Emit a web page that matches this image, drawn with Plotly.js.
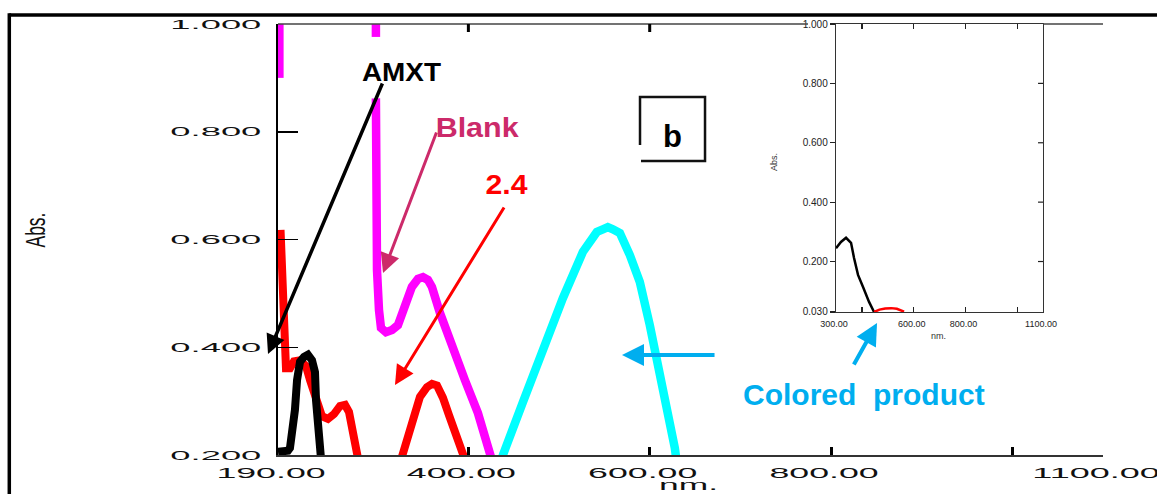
<!DOCTYPE html>
<html>
<head>
<meta charset="utf-8">
<script src="https://cdn.plot.ly/plotly-3.0.1.min.js"></script>
<style>
  html, body { margin: 0; padding: 0; background: #fff; }
  #chart { width: 1157px; height: 494px; }
</style>
</head>
<body>
<div id="chart"></div>
<script>
// ---- Spectra (wavelength in nm, absorbance) ----
// Blank (reagent blank), drawn in magenta; null marks breaks in the trace
const blankNm  = [191.5, 191.5, null, 298, 298, null, 298, 298, 299.2, 301.4, 303.6, 309.1, 315.7, 322.3, 330.0, 337.7, 344.4, 349.9, 355.4, 359.8, 368.6, 381.8, 396.2, 410.5, 423.7, 426.0];
const blankAbs = [1.05, 0.900, null, 1.05, 0.976, null, 0.862, 0.673, 0.543, 0.469, 0.436, 0.428, 0.432, 0.441, 0.475, 0.512, 0.527, 0.530, 0.525, 0.512, 0.464, 0.400, 0.339, 0.278, 0.206, 0.190];

// AMXT, drawn in black
const amxtNm  = [190.0, 196.0, 201.0, 203.2, 205.4, 208.7, 211.0, 214.3, 218.7, 223.0, 227.5, 230.8, 231.9, 234.1, 236.3, 237.4];
const amxtAbs = [0.206, 0.207, 0.208, 0.213, 0.237, 0.284, 0.339, 0.373, 0.382, 0.386, 0.376, 0.354, 0.302, 0.256, 0.219, 0.194];

// 2.4 trace, drawn in red
const redNm  = [192.8, 194.4, 195.5, 196.6, 198.8, 203.2, 207.6, 214.3, 220.9, 225.3, 229.7, 234.1, 238.5, 245.1, 251.8, 258.4, 263.9, 268.3, 272.7, 277.1, 278.2, null,
                325.7, 327.9, 337.8, 346.6, 354.3, 359.9, 365.4, 372.0, 378.6, 386.3, 394.1, 396.3];
const redAbs = [0.618, 0.525, 0.432, 0.380, 0.361, 0.361, 0.374, 0.376, 0.365, 0.339, 0.313, 0.291, 0.272, 0.267, 0.276, 0.291, 0.293, 0.280, 0.246, 0.209, 0.194, null,
                0.191, 0.204, 0.265, 0.308, 0.326, 0.332, 0.329, 0.306, 0.274, 0.241, 0.204, 0.191];

// Colored product, drawn in cyan
const productNm  = [436.5, 438.1, 460.1, 482.2, 504.2, 526.3, 541.7, 548.3, 553.8, 559.4, 567.1, 578.1, 589.1, 600.1, 611.2, 620.0, 627.7, 629.5];
const productAbs = [0.190, 0.200, 0.298, 0.399, 0.491, 0.577, 0.614, 0.619, 0.623, 0.619, 0.612, 0.571, 0.521, 0.441, 0.354, 0.287, 0.213, 0.190];

// Inset spectra
const insetAmxtNm   = [300, 319, 338.7, 358, 369.6, 385, 404.4, 427.6, 447];
const insetAmxtAbs  = [0.245, 0.266, 0.280, 0.263, 0.212, 0.155, 0.114, 0.064, 0.030];
const insetRedNm    = [447, 468, 490, 513, 535, 555, 563];
const insetRedAbs   = [0.030, 0.038, 0.042, 0.043, 0.041, 0.035, 0.031];

// ---- Tick values / labels ----
const xTickVals = [190, 400, 600, 800, 1100];
const xTickText = ['190.00', '400.00', '600.00', '800.00', '1100.00'];
const xTickMarks = [400, 600, 800, 1000];
const xTopTickMarks = [400, 600];
const yTickVals = [0.2, 0.4, 0.6, 0.8, 1.0];
const yTickText = ['0.200', '0.400', '0.600', '0.800', '1.000'];
const yRightTickMarks = [0.4, 0.6, 0.8];

const insetXTickVals = [300, 600, 800, 1100];
const insetXTickText = ['300.00', '600.00', '800.00', '1100.00'];
const insetXTickMarks = [400, 600, 800, 1000];
const insetYTickVals = [0.03, 0.2, 0.4, 0.6, 0.8, 1.0];
const insetYTickText = ['0.030', '0.200', '0.400', '0.600', '0.800', '1.000'];
const insetYRightTickMarks = [0.2, 0.4, 0.6, 0.8];

const FONT = 'Liberation Sans, Arial, Helvetica, sans-serif';

// tick marks that carry no label are drawn as minor ticks
const unlabelled = (marks, labelled) => marks.filter(v => !labelled.includes(v));

const traces = [
  { x: blankNm, y: blankAbs, mode: 'lines', line: { color: '#ff00ff', width: 8.5 }, xaxis: 'x', yaxis: 'y', hoverinfo: 'skip', connectgaps: false },
  { x: productNm, y: productAbs, mode: 'lines', line: { color: '#00ffff', width: 8.5 }, xaxis: 'x', yaxis: 'y', hoverinfo: 'skip' },
  { x: redNm, y: redAbs, mode: 'lines', line: { color: '#ff0000', width: 8 }, xaxis: 'x', yaxis: 'y', hoverinfo: 'skip', connectgaps: false },
  { x: amxtNm, y: amxtAbs, mode: 'lines', line: { color: '#000000', width: 8 }, xaxis: 'x', yaxis: 'y', hoverinfo: 'skip' },
  { x: insetAmxtNm, y: insetAmxtAbs, mode: 'lines', line: { color: '#000000', width: 2.5 }, xaxis: 'x2', yaxis: 'y2', hoverinfo: 'skip' },
  { x: insetRedNm, y: insetRedAbs, mode: 'lines', line: { color: '#ff0000', width: 2.5 }, xaxis: 'x2', yaxis: 'y2', hoverinfo: 'skip' }
];

const bare = { showgrid: false, zeroline: false, fixedrange: true };

const INSET_RIGHT = 0.9273;

const shapes = [
  // outer frame (top and left)
  { type: 'line', xref: 'paper', yref: 'paper', x0: -0.3257, x1: 1.2, y0: 1.0209, y1: 1.0209, line: { color: '#000', width: 3.5 } },
  { type: 'line', xref: 'paper', yref: 'paper', x0: -0.3257, x1: -0.3257, y0: 1.025, y1: -0.2, line: { color: '#000', width: 3.5 } },
  // top border of the main plot, interrupted by the inset
  { type: 'line', xref: 'paper', yref: 'paper', x0: 0, x1: 0.6424, y0: 1, y1: 1, line: { color: '#444', width: 1.5 } },
  { type: 'line', xref: 'paper', yref: 'paper', x0: INSET_RIGHT, x1: 1, y0: 1, y1: 1, line: { color: '#444', width: 1.5 } },
  // panel letter box
  { type: 'path', xref: 'paper', yref: 'paper',
    path: 'M 0.4388 0.7193 L 0.4388 0.8306 L 0.5176 0.8306 L 0.5176 0.6821 L 0.4400 0.6821',
    line: { color: '#111', width: 2.5 } }
];
// short ticks hanging from the top border of the main plot
xTopTickMarks.forEach(v => shapes.push({
  type: 'line', xref: 'x', yref: 'paper', x0: v, x1: v,
  ysizemode: 'pixel', yanchor: 1, y0: 0, y1: -8, line: { color: '#000', width: 3 }
}));
// inward ticks on the right edge of the inset
insetYRightTickMarks.forEach(v => shapes.push({
  type: 'line', xref: 'paper', yref: 'y2', y0: v, y1: v,
  xsizemode: 'pixel', xanchor: INSET_RIGHT, x0: 0, x1: -5, line: { color: '#222', width: 1.2 }
}));

const layout = {
  width: 1157, height: 494,
  margin: { l: 278, r: 54, t: 24, b: 39, pad: 0 },
  paper_bgcolor: '#ffffff', plot_bgcolor: 'rgba(0,0,0,0)',
  showlegend: false,
  font: { family: FONT, color: '#111' },

  // main axes
  xaxis: Object.assign({}, bare, {
    range: [190, 1100], tickmode: 'array', tickvals: xTickVals, ticktext: xTickText,
    ticks: 'inside', ticklen: 8, tickwidth: 3, tickcolor: '#000',
    minor: { tickmode: 'array', tickvals: unlabelled(xTickMarks, xTickVals), ticks: 'inside', ticklen: 8, tickwidth: 3, tickcolor: '#000', showgrid: false },
    showline: true, linecolor: '#333', linewidth: 2, mirror: false,
    ticklabelshift: -7, ticklabelstandoff: 4,
    tickfont: { family: FONT, size: 14, color: '#111' }
  }),
  yaxis: Object.assign({}, bare, {
    range: [0.2, 1.0], tickmode: 'array', tickvals: yTickVals, ticktext: yTickText,
    ticks: 'inside', ticklen: 20, tickwidth: 1.5, tickcolor: '#000',
    showline: true, linecolor: '#000', linewidth: 2, mirror: false,
    ticklabelstandoff: 12,
    tickfont: { family: FONT, size: 13, color: '#111' }
  }),
  yaxis3: Object.assign({}, bare, {
    overlaying: 'y', anchor: 'x', side: 'right',
    range: [0.2, 1.0], tickmode: 'array', tickvals: yRightTickMarks, showticklabels: false,
    ticks: 'inside', ticklen: 17, tickwidth: 1.5, tickcolor: '#000',
    showline: true, linecolor: '#000', linewidth: 4
  }),

  // inset axes
  xaxis2: Object.assign({}, bare, {
    domain: [0.6764, INSET_RIGHT], anchor: 'y2',
    range: [300, 1100], tickmode: 'array', tickvals: insetXTickVals, ticktext: insetXTickText,
    ticks: 'inside', ticklen: 5, tickwidth: 1.2, tickcolor: '#222',
    minor: { tickmode: 'array', tickvals: unlabelled(insetXTickMarks, insetXTickVals), ticks: 'inside', ticklen: 5, tickwidth: 1.2, tickcolor: '#222', showgrid: false },
    showline: true, linecolor: '#333', linewidth: 1.3, mirror: 'ticks',
    ticklabelshift: -2, ticklabelstandoff: 3,
    tickfont: { family: FONT, size: 9, color: '#222' }
  }),
  yaxis2: Object.assign({}, bare, {
    domain: [0.3318, 1], anchor: 'x2',
    range: [0.03, 1.0], tickmode: 'array', tickvals: insetYTickVals, ticktext: insetYTickText,
    ticks: 'outside', ticklen: 5, tickwidth: 1.2, tickcolor: '#222',
    showline: true, linecolor: '#333', linewidth: 1.3, mirror: true,
    tickfont: { family: FONT, size: 10, color: '#222' }
  }),

  shapes: shapes,

  annotations: [
    // axis titles
    { text: 'Abs.', xref: 'paper', yref: 'paper', x: -0.2945, y: 0.522, textangle: -90, showarrow: false,
      font: { family: FONT, size: 28, color: '#111' }, xanchor: 'center', yanchor: 'middle' },
    { text: 'nm.', xref: 'paper', yref: 'paper', x: 0.497, y: -0.0691, showarrow: false,
      font: { family: FONT, size: 15, color: '#111' }, xanchor: 'center', yanchor: 'middle' },
    { text: 'Abs.', xref: 'paper', yref: 'paper', x: 0.6012, y: 0.6798, textangle: -90, showarrow: false,
      font: { family: FONT, size: 9, color: '#333' }, xanchor: 'center', yanchor: 'middle' },
    { text: 'nm.', xref: 'paper', yref: 'paper', x: 0.80, y: 0.2761, showarrow: false,
      font: { family: FONT, size: 9, color: '#333' }, xanchor: 'center', yanchor: 'middle' },

    // labels
    { text: '<b>AMXT</b>', xref: 'paper', yref: 'paper', x: 0.1503, y: 0.8875, showarrow: false,
      font: { family: FONT, size: 25, color: '#000' }, xanchor: 'center', yanchor: 'middle' },
    { text: '<b>Blank</b>', xref: 'paper', yref: 'paper', x: 0.2424, y: 0.761, showarrow: false,
      font: { family: FONT, size: 28, color: '#cc2a6a' }, xanchor: 'center', yanchor: 'middle' },
    { text: '<b>2.4</b>', xref: 'paper', yref: 'paper', x: 0.2764, y: 0.6265, showarrow: false,
      font: { family: FONT, size: 28, color: '#ff0000' }, xanchor: 'center', yanchor: 'middle' },
    { text: '<b>Colored  product</b>', xref: 'paper', yref: 'paper', x: 0.7103, y: 0.1415, showarrow: false,
      font: { family: FONT, size: 30, color: '#00aeef' }, xanchor: 'center', yanchor: 'middle' },
    { text: '<b>b</b>', xref: 'paper', yref: 'paper', x: 0.4776, y: 0.739, showarrow: false,
      font: { family: FONT, size: 31, color: '#000' }, xanchor: 'center', yanchor: 'middle' },

    // pointer arrows
    { text: '', xref: 'paper', yref: 'paper', x: -0.0121, y: 0.2343, ax: 115, ay: -272, showarrow: true,
      arrowhead: 2, arrowsize: 1.1, arrowwidth: 3.5, arrowcolor: '#000', standoff: 0 },
    { text: '', xref: 'paper', yref: 'paper', x: 0.1273, y: 0.4223, ax: 54, ay: -142, showarrow: true,
      arrowhead: 2, arrowsize: 1.3, arrowwidth: 3, arrowcolor: '#cc2a6a', standoff: 0 },
    { text: '', xref: 'paper', yref: 'paper', x: 0.1418, y: 0.1624, ax: 110, ay: -179, showarrow: true,
      arrowhead: 2, arrowsize: 1.3, arrowwidth: 3, arrowcolor: '#ff0000', standoff: 0 },
    { text: '', xref: 'paper', yref: 'paper', x: 0.4170, y: 0.2320, ax: 94, ay: 0, showarrow: true,
      arrowhead: 2, arrowsize: 1.1, arrowwidth: 4, arrowcolor: '#00aeef', standoff: 0 },
    { text: '', xref: 'paper', yref: 'paper', x: 0.7261, y: 0.3063, ax: -24, ay: 43, showarrow: true,
      arrowhead: 2, arrowsize: 1.1, arrowwidth: 4, arrowcolor: '#00aeef', standoff: 0 }
  ]
};

// horizontal extent (px) of some annotation texts, by annotation index
const annotationTextWidth = { 0: 35, 1: 59, 4: 79, 5: 83, 6: 42 };
// the main axis numbers use a wide, extended face: ~18 px per character
const MAIN_TICK_CHAR_PX = 18.2;

const el = document.getElementById('chart');
Plotly.newPlot(el, traces, layout, { staticPlot: true, responsive: false }).then(function () {
  el.querySelectorAll('.xtick text, .ytick text').forEach(function (t) {
    const n = t.textContent.length;
    t.setAttribute('textLength', (n * MAIN_TICK_CHAR_PX).toFixed(1));
    t.setAttribute('lengthAdjust', 'spacingAndGlyphs');
  });
  el.querySelectorAll('g.annotation').forEach(function (g) {
    const idx = g.getAttribute('data-index');
    if (annotationTextWidth[idx] !== undefined) {
      const t = g.querySelector('text.annotation-text');
      if (t) {
        t.setAttribute('textLength', annotationTextWidth[idx]);
        t.setAttribute('lengthAdjust', 'spacingAndGlyphs');
      }
    }
  });
});
</script>
</body>
</html>
